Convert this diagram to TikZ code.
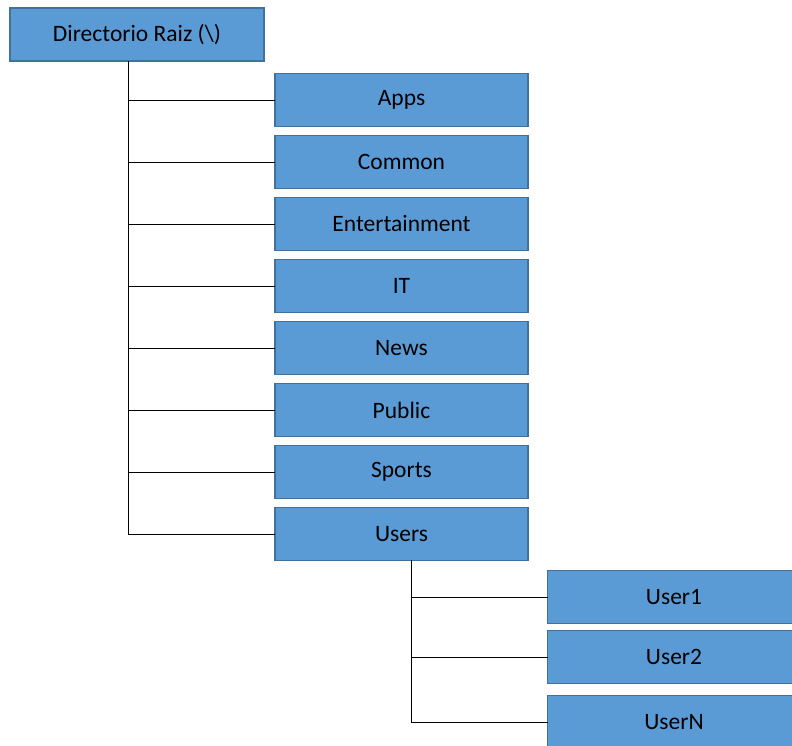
\documentclass[tikz,border=0pt]{standalone}
\usepackage{fontspec}
\setmainfont{Carlito}
\usetikzlibrary{positioning}
\definecolor{boxfill}{HTML}{5B9BD5}
\definecolor{boxline}{HTML}{41719C}

\begin{document}
\begin{tikzpicture}[x=1pt,y=-1pt]
\tikzstyle{folder}=[draw=boxline, fill=boxfill, line width=1.2pt, outer sep=0pt, minimum width=253pt, minimum height=53pt, inner sep=0pt, font=\fontsize{23.5}{28}\selectfont]
\tikzstyle{branch}=[line width=0.9pt]
\useasboundingbox (0,0) rectangle (792,746);
\node[folder, anchor=north west, minimum width=254pt] (root) at (10,8) {Directorio Raiz (\textbackslash)};
\node[folder] (apps) at (401.5,100) {Apps};
\node[folder, below=9pt of apps] (common) {Common};
\node[folder, below=9pt of common] (entertainment) {Entertainment};
\node[folder, below=9pt of entertainment] (it) {IT};
\node[folder, below=9pt of it] (news) {News};
\node[folder, below=9pt of news] (public) {Public};
\node[folder, below=9pt of public] (sports) {Sports};
\node[folder, below=9pt of sports] (users) {Users};
% sub folders of Users
\node[folder] (user1) at (674,597) {User1};
\node[folder, below=7pt of user1] (user2) {User2};
\node[folder, below=12pt of user2] (userN) {UserN};
\coordinate (rootTop) at (128,61);
\coordinate (usersTop) at (411,560);
\draw[branch] (rootTop) -- (users.west -| rootTop);
\foreach \n in {apps,common,entertainment,it,news,public,sports,users}
  \draw[branch] (\n.west) -- (\n.west -| rootTop);
\draw[branch] (usersTop) -- (userN.west -| usersTop);
\foreach \n in {user1,user2,userN}
  \draw[branch] (\n.west) -- (\n.west -| usersTop);
\end{tikzpicture}
\end{document}
